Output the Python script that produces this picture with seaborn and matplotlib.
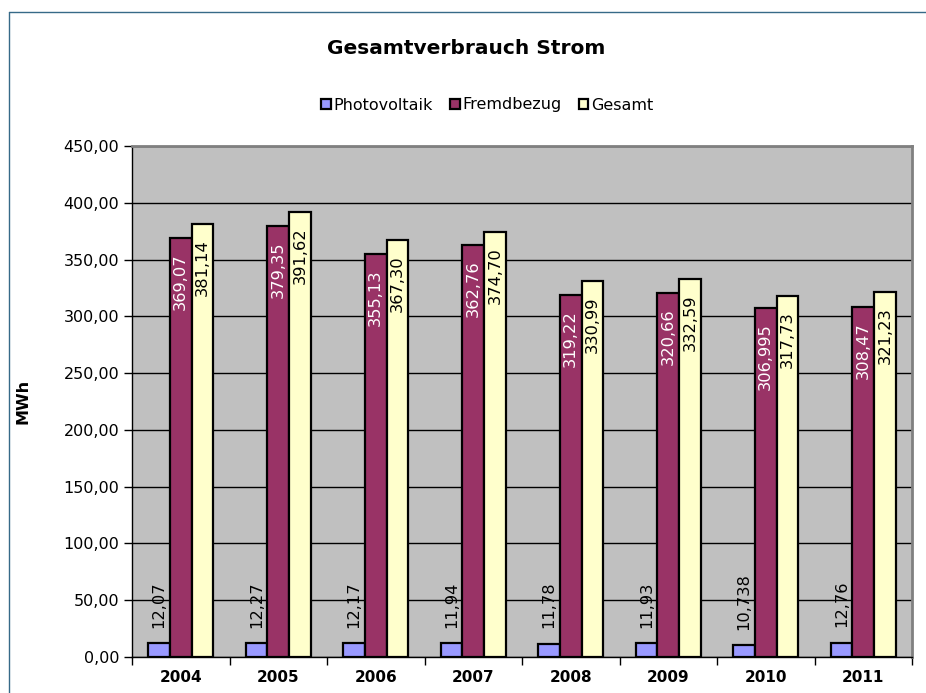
import numpy as np
import pandas as pd
import matplotlib
matplotlib.use("Agg")
import matplotlib.pyplot as plt
from matplotlib.lines import Line2D
from matplotlib.ticker import FuncFormatter, MultipleLocator
import seaborn as sns

# Daten
jahre = ["2004", "2005", "2006", "2007", "2008", "2009", "2010", "2011"]
photovoltaik = [12.07, 12.27, 12.17, 11.94, 11.78, 11.93, 10.738, 12.76]
fremdbezug = [369.07, 379.35, 355.13, 362.76, 319.22, 320.66, 306.995, 308.47]
gesamt = [381.14, 391.62, 367.30, 374.70, 330.99, 332.59, 317.73, 321.23]

pv_labels = ["12,07", "12,27", "12,17", "11,94", "11,78", "11,93", "10,738", "12,76"]
fb_labels = ["369,07", "379,35", "355,13", "362,76", "319,22", "320,66", "306,995", "308,47"]
ges_labels = ["381,14", "391,62", "367,30", "374,70", "330,99", "332,59", "317,73", "321,23"]

serien = ["Photovoltaik", "Fremdbezug", "Gesamt"]
farben = ["#9999FF", "#993366", "#FFFFCC"]

df = pd.DataFrame({
    "Jahr": jahre * 3,
    "Wert": photovoltaik + fremdbezug + gesamt,
    "Art": [s for s in serien for _ in jahre],
})

sns.set_style("white")
plt.rcParams["font.family"] = ["DejaVu Sans"]
plt.rcParams["text.color"] = "black"
plt.rcParams["axes.labelcolor"] = "black"
plt.rcParams["xtick.color"] = "black"
plt.rcParams["ytick.color"] = "black"

fig = plt.figure(figsize=(9.26, 6.93), dpi=100)
ax = fig.add_axes([132 / 926, 1 - 657 / 693, (912 - 132) / 926, (657 - 146) / 693])
ax.set_facecolor("#C0C0C0")

sns.barplot(data=df, x="Jahr", y="Wert", hue="Art", palette=farben,
            width=0.667, gap=0, edgecolor="black", linewidth=1.6,
            saturation=1, ax=ax, zorder=3)

# Beschriftungen der Balken
label_sets = [pv_labels, fb_labels, ges_labels]
for i, cont in enumerate(ax.containers):
    for bar, txt in zip(cont, label_sets[i]):
        xc = bar.get_x() + bar.get_width() / 2
        h = bar.get_height()
        if i == 0:
            ax.annotate(txt, (xc, h), xytext=(0, 11), textcoords="offset points",
                        rotation=90, ha="center", va="bottom", fontsize=11.7,
                        color="black", zorder=5)
        else:
            ax.annotate(txt, (xc, h), xytext=(0, -11), textcoords="offset points",
                        rotation=90, ha="center", va="top", fontsize=11.7,
                        color="white" if i == 1 else "black", zorder=5)

ax.set_ylim(0, 450)
ax.set_xlim(-0.5, 7.5)
ax.yaxis.set_major_locator(MultipleLocator(50))
ax.yaxis.set_major_formatter(FuncFormatter(lambda v, p: f"{v:.2f}".replace(".", ",")))
ax.grid(axis="y", color="black", linewidth=1, zorder=0)
ax.set_axisbelow(True)

# x-Ticks an Kategoriegrenzen, Beschriftung mittig
ax.set_xticks(np.arange(-0.5, 8, 1))
ax.set_xticklabels([])
ax.set_xticks(np.arange(8), minor=True)
ax.set_xticklabels(jahre, minor=True, fontsize=11, fontweight="bold")
ax.tick_params(axis="x", which="major", length=6, width=1, color="black", direction="out", bottom=True)
ax.tick_params(axis="x", which="minor", length=0, pad=9)
ax.tick_params(axis="y", length=6, width=1, color="black", direction="out", left=True, labelsize=11.5, pad=3)

ax.set_xlabel("")
ax.set_ylabel("MWh", fontsize=11.5, fontweight="bold")
ax.yaxis.set_label_coords((31 - 132) / 780, 0.5)

for s in ["left", "bottom"]:
    ax.spines[s].set_color("black")
    ax.spines[s].set_linewidth(1)
for s in ["top", "right"]:
    ax.spines[s].set_color("#808080")
    ax.spines[s].set_linewidth(2)

handles, labels = ax.get_legend_handles_labels()
ax.get_legend().remove()
fig.legend(handles, labels, loc="center", bbox_to_anchor=(487 / 926, 1 - 105 / 693),
           ncol=3, frameon=False, fontsize=11.5, handlelength=0.6, handleheight=0.6,
           handletextpad=0.15, columnspacing=1.1)

fig.text(466 / 926, 1 - 49 / 693, "Gesamtverbrauch Strom", ha="center", va="center",
         fontsize=14.5, fontweight="bold")

# Rahmen des Diagrammbereichs
rahmen = "#366A88"
fig.add_artist(Line2D([9 / 926, 9 / 926], [0, 1 - 12 / 693], transform=fig.transFigure,
                      color=rahmen, linewidth=1))
fig.add_artist(Line2D([9 / 926, 1], [1 - 12 / 693, 1 - 12 / 693], transform=fig.transFigure,
                      color=rahmen, linewidth=1))

fig.savefig("out.png", dpi=100)
